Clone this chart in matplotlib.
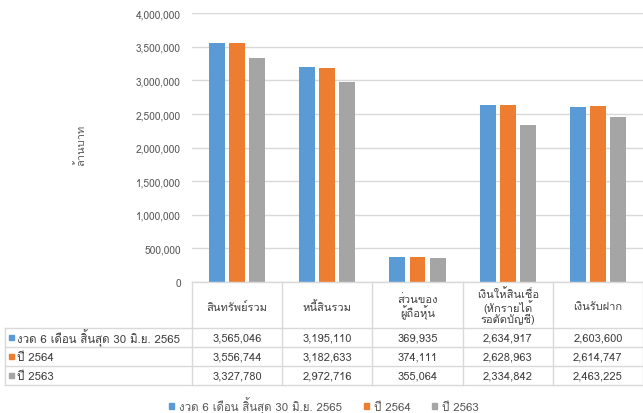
import matplotlib
matplotlib.use("Agg")
import matplotlib.pyplot as plt
from matplotlib import font_manager as fm
from matplotlib.ft2font import FT2Font
from matplotlib.transforms import blended_transform_factory
from matplotlib.patches import Rectangle
from matplotlib.lines import Line2D

# ---------------- data ----------------
categories = ["สินทรัพย์รวม", "หนี้สินรวม", "ส่วนของ\nผู้ถือหุ้น",
              "เงินให้สินเชื่อ\n(หักรายได้\nรอตัดบัญชี)", "เงินรับฝาก"]
series_names = ["งวด 6 เดือน สิ้นสุด 30 มิ.ย. 2565", "ปี 2564", "ปี 2563"]
s2565 = [3565046, 3195110, 369935, 2634917, 2603600]
s2564 = [3556744, 3182633, 374111, 2628963, 2614747]
s2563 = [3327780, 2972716, 355064, 2334842, 2463225]
series_values = [s2565, s2564, s2563]
colors = ["#5B9BD5", "#ED7D31", "#A5A5A5"]
yticks = [0, 500000, 1000000, 1500000, 2000000, 2500000, 3000000, 3500000, 4000000]
ylabel = "ล้านบาท"

# ---------------- fonts ----------------
thai_font = None
for f in fm.fontManager.ttflist:
    try:
        if 0x0E01 in FT2Font(f.fname).get_charmap():
            thai_font = f.name
            break
    except Exception:
        pass
fams = ([thai_font] if thai_font else []) + ["DejaVu Sans"]
plt.rcParams["font.family"] = fams

W, H = 643, 414
def fx(px): return px / W
def fy(py): return 1 - py / H

fig = plt.figure(figsize=(W / 100, H / 100), dpi=100)
fig.patch.set_facecolor("white")
ax = fig.add_axes([fx(192), fy(283), fx(643) - fx(192), fy(14.3) - fy(283)])

n = len(categories)
bw = 0.177
step = 0.222
for k, (vals, c) in enumerate(zip(series_values, colors)):
    xs = [i + (k - 1) * step for i in range(n)]
    ax.bar(xs, vals, width=bw, color=c, zorder=3)

ax.set_xlim(-0.5, n - 0.5)
ax.set_ylim(0, 4000000)
ax.set_yticks(yticks)
ax.set_yticklabels([f"{v:,}" for v in yticks], fontsize=7.4, color="#595959")
ax.tick_params(axis="y", length=0, pad=8)
ax.set_xticks([])
ax.grid(axis="y", color="#d9d9d9", linewidth=1, zorder=0)
for s in ax.spines.values():
    s.set_visible(False)

fig.text(fx(80), fy(145), ylabel, rotation=90, ha="center", va="center",
         fontsize=8, color="#595959")

# ---------------- data table ----------------
lc = "#d9d9d9"
tr = blended_transform_factory(ax.transData, fig.transFigure)
ft = fig.transFigure
row_y = [283, 329, 348, 367, 386]
fig.add_artist(Line2D([fx(192), fx(643)], [fy(283), fy(283)], color=lc, lw=1, transform=ft))
for yy in row_y[1:]:
    fig.add_artist(Line2D([fx(5), fx(643)], [fy(yy), fy(yy)], color=lc, lw=1, transform=ft))
fig.add_artist(Line2D([fx(5), fx(5)], [fy(329), fy(386)], color=lc, lw=1, transform=ft))
for i in range(n + 1):
    ax.add_artist(Line2D([i - 0.5, i - 0.5], [fy(283), fy(386)], color=lc, lw=1,
                         transform=tr, clip_on=False))
for i, cat in enumerate(categories):
    ax.text(i, fy(307), cat, transform=tr, ha="center", va="center",
            fontsize=8, color="#404040", linespacing=1.0)
for r, (name, vals, c) in enumerate(zip(series_names, series_values, colors)):
    yc = (row_y[r + 1] + row_y[r + 2]) / 2
    fig.add_artist(Rectangle((fx(9), fy(yc + 2.5)), 5 / W, 5 / H, color=c, transform=ft))
    fig.text(fx(17), fy(yc), name, ha="left", va="center", fontsize=8.3, color="#404040")
    for i, v in enumerate(vals):
        ax.text(i, fy(yc), f"{v:,}", transform=tr, ha="center", va="center",
                fontsize=8, color="#404040")

# ---------------- legend ----------------
handles = [Rectangle((0, 0), 1, 1, color=c) for c in colors]
fig.legend(handles, series_names, loc="center", bbox_to_anchor=(fx(324), fy(406)),
           ncol=3, frameon=False, fontsize=8.3, handlelength=0.45, handleheight=0.45,
           handletextpad=0.4, columnspacing=1.9, labelcolor="#595959")

fig.savefig("out.png", dpi=100, facecolor="white")
